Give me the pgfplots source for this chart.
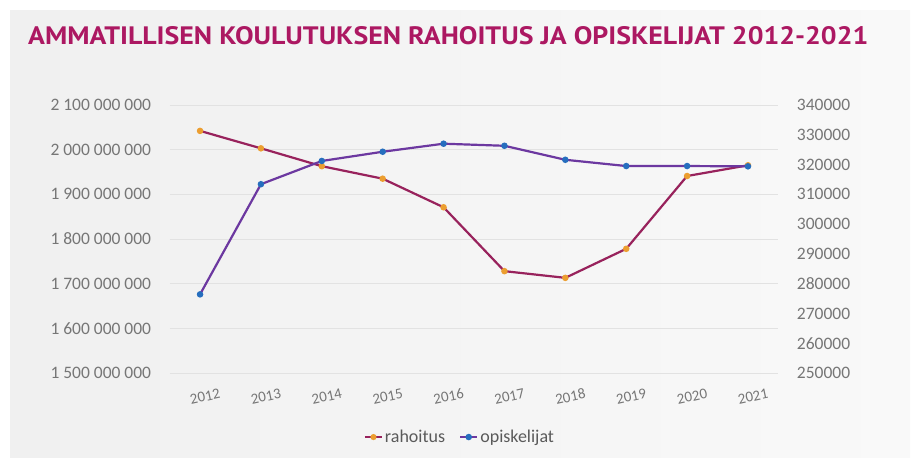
\documentclass[border=0pt]{standalone}
\usepackage{pgfplots}
\pgfplotsset{compat=1.18}
\usepackage{fontspec}
\setmainfont{Carlito}
\newfontfamily\titlefont{PT Sans}
\definecolor{bg}{RGB}{240,240,240}
\definecolor{titlec}{RGB}{172,24,98}
\definecolor{rahc}{RGB}{152,34,92}
\definecolor{opic}{RGB}{108,56,160}
\definecolor{rahm}{RGB}{236,158,48}
\definecolor{opim}{RGB}{38,110,190}
\definecolor{tickc}{RGB}{118,118,118}
\definecolor{legc}{RGB}{90,90,90}
\definecolor{gridc}{RGB}{226,226,226}
\pgfplotstableread{
x rahoitus opiskelijat
0 2042000000 276400
1 2003000000 313400
2 1963000000 321200
3 1935000000 324300
4 1871000000 327000
5 1728000000 326300
6 1713000000 321600
7 1778000000 319500
8 1941000000 319500
9 1965000000 319400
}\data
\begin{document}
\begin{tikzpicture}[x=1bp,y=1bp]
\fill[white] (0,0) rectangle (920,458);
\shade[left color=bg, right color=bg!40!white] (10,0) rectangle (910,447);
\node[anchor=base west, inner sep=0pt, text=titlec] at (28,413)
  {\resizebox{840bp}{18bp}{\titlefont\bfseries AMMATILLISEN KOULUTUKSEN RAHOITUS JA OPISKELIJAT 2012-2021}};
\pgfplotsset{
  common/.style={
    at={(169.6bp,85bp)}, anchor=south west,
    scale only axis, width=608.8bp, height=268bp,
    xmin=-0.5, xmax=9.5,
    xtick={0,...,9},
    xticklabels={2012,2013,2014,2015,2016,2017,2018,2019,2020,2021},
    axis line style={draw=none},
    major tick length=0pt,
    scaled y ticks=false,
    tick label style={font=\fontsize{17.5bp}{19bp}\selectfont, text=tickc},
    /pgf/number format/assume math mode=true,
    clip=false,
  },
}
\begin{axis}[common,
  ymin=1500000000, ymax=2100000000,
  ytick={1500000000,1600000000,1700000000,1800000000,1900000000,2000000000,2100000000},
  yticklabels={1 500 000 000,1 600 000 000,1 700 000 000,1 800 000 000,1 900 000 000,2 000 000 000,2 100 000 000},
  ymajorgrids, grid style={gridc, line width=0.8bp},
  yticklabel style={xshift=-15bp},
  xticklabel style={rotate=12, anchor=center, yshift=-24bp, font=\fontsize{15bp}{17bp}\selectfont},
]
\addplot[rahc, line width=2.2bp, mark=*, mark size=2.1bp, mark options={fill=rahm, draw=rahm}]
  table[x=x, y=rahoitus] {\data};
\end{axis}
\begin{axis}[common,
  axis y line*=right, axis x line=none,
  ymin=250000, ymax=340000,
  ytick={250000,260000,270000,280000,290000,300000,310000,320000,330000,340000},
  yticklabels={250000,260000,270000,280000,290000,300000,310000,320000,330000,340000},
  yticklabel style={xshift=15bp},
  legend style={at={(0.477,-0.239)}, anchor=center, draw=none, fill=none,
    legend columns=2, font=\fontsize{18bp}{20bp}\selectfont, text=legc,
    /tikz/every even column/.append style={column sep=12bp}},
  legend cell align=left,
]
\addlegendimage{rahc, line width=2bp, mark=*, mark size=2bp, mark options={fill=rahm, draw=rahm}}
\addlegendentry{rahoitus}
\addplot[opic, line width=2.2bp, mark=*, mark size=2.1bp, mark options={fill=opim, draw=opim}]
  table[x=x, y=opiskelijat] {\data};
\addlegendentry{opiskelijat}
\end{axis}
\pgfresetboundingbox
\useasboundingbox (0,0) rectangle (920,458);
\end{tikzpicture}
\end{document}
